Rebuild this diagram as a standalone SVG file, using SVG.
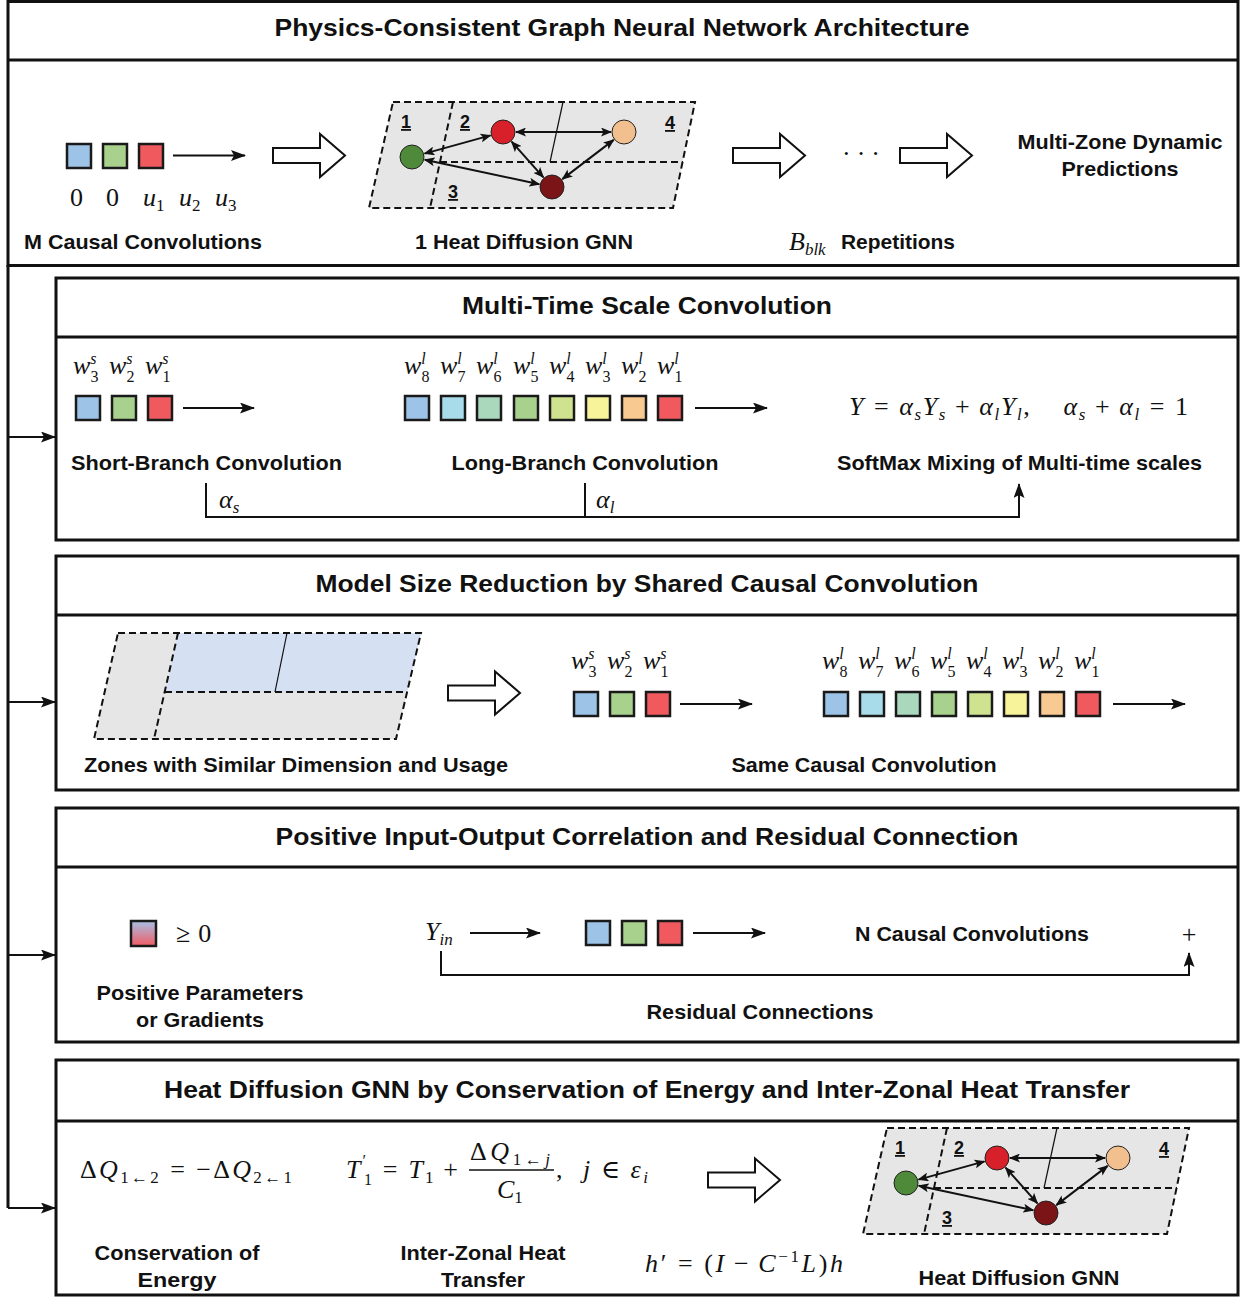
<svg xmlns="http://www.w3.org/2000/svg" width="1241" height="1297" viewBox="0 0 1241 1297">
<style>
.t{font-family:"Liberation Sans",Arial,sans-serif;font-weight:bold;font-size:21px;fill:#111}
.h{font-family:"Liberation Sans",Arial,sans-serif;font-weight:bold;font-size:24px;fill:#111}
.m{font-family:"Liberation Serif","DejaVu Serif","Times New Roman",serif;font-size:26px;fill:#111}
.i{font-style:italic}
.s{font-size:17px}
.ss{font-size:16px}
.box{fill:none;stroke:#111;stroke-width:3}
.ln{fill:none;stroke:#111;stroke-width:2}
.sq{stroke:#1a1a1a;stroke-width:2.5}
.zone{fill:#e6e6e6;stroke:none}
.dash{fill:none;stroke:#111;stroke-width:2;stroke-dasharray:7 4}
.thin{fill:none;stroke:#111;stroke-width:1.2}
.blk{fill:#fff;stroke:#111;stroke-width:2}
.node{stroke:#222;stroke-width:1}
.edge{fill:none;stroke:#111;stroke-width:2;marker-start:url(#ah2);marker-end:url(#ah2)}
.zl{font-family:"Liberation Sans",Arial,sans-serif;font-weight:bold;font-size:18px;text-decoration:underline;fill:#111}
.b{fill:#9dc3e6}.c{fill:#a8dcea}.mi{fill:#a9d8bd}.g{fill:#a9d18e}.yg{fill:#cfe290}.y{fill:#f6f39a}.o{fill:#f9c992}.r{fill:#f05a5f}
</style>
<defs>
<marker id="ah" markerWidth="15" markerHeight="11" refX="14" refY="5.5" orient="auto" markerUnits="userSpaceOnUse"><path d="M0,0 L15,5.5 L0,11 L3,5.5 Z" fill="#111"/></marker>
<marker id="ah2" markerWidth="11" markerHeight="9" refX="10" refY="4.5" orient="auto-start-reverse" markerUnits="userSpaceOnUse"><path d="M0,0 L11,4.5 L0,9 L2.5,4.5 Z" fill="#111"/></marker>
<path id="blkarrow" d="M0,-7.5 H47 V-21.5 L72,0 L47,21.5 V7.5 H0 Z"/>
<linearGradient id="grad" x1="0" y1="0" x2="0" y2="1"><stop offset="0" stop-color="#a6c0e6"/><stop offset="1" stop-color="#f25c64"/></linearGradient>
<g id="graph">
  <polygon class="zone" points="393,102 695,102 673,208 369,208"/>
  <polygon class="dash" points="393,102 695,102 673,208 369,208"/>
  <line class="dash" x1="453" y1="102" x2="430" y2="208"/>
  <line class="dash" x1="440" y1="162" x2="683" y2="162"/>
  <line class="thin" x1="563" y1="102" x2="550" y2="162"/>
  <text class="zl" x="401" y="128">1</text>
  <text class="zl" x="460" y="128">2</text>
  <text class="zl" x="448" y="198">3</text>
  <text class="zl" x="665" y="129">4</text>
  <g class="connectors">
    <line class="edge" x1="424.5" y1="153.6" x2="490.5" y2="135.4"/>
    <line class="edge" x1="516" y1="132" x2="611" y2="132"/>
    <line class="edge" x1="511.6" y1="141.7" x2="543.4" y2="177.3"/>
    <line class="edge" x1="613.7" y1="139.9" x2="562.3" y2="179.1"/>
    <line class="edge" x1="424.7" y1="159.7" x2="539.3" y2="184.3"/>
  </g>
  <circle class="node" cx="412" cy="157" r="12" fill="#4e8a3a"/>
  <circle class="node" cx="503" cy="132" r="12" fill="#d8202a"/>
  <circle class="node" cx="624" cy="132" r="12" fill="#f2c08f"/>
  <circle class="node" cx="552" cy="187" r="12" fill="#7a1416"/>
</g>
</defs>

<!-- frames -->
<g id="frames">
  <rect class="box" x="8" y="1.5" width="1230" height="264"/>
  <line class="box" x1="8" y1="60" x2="1238" y2="60"/>
  <rect class="box" x="56" y="278" width="1182" height="262"/>
  <line class="box" x1="56" y1="337" x2="1238" y2="337"/>
  <rect class="box" x="56" y="556" width="1182" height="234"/>
  <line class="box" x1="56" y1="615" x2="1238" y2="615"/>
  <rect class="box" x="56" y="808" width="1182" height="234"/>
  <line class="box" x1="56" y1="867" x2="1238" y2="867"/>
  <rect class="box" x="56" y="1060" width="1182" height="235"/>
  <line class="box" x1="56" y1="1121" x2="1238" y2="1121"/>
</g>

<!-- connectors -->
<g id="connectors">
  <path class="box" d="M8,265 V1208"/>
  <line class="ln" x1="8" y1="437" x2="55" y2="437" marker-end="url(#ah)"/>
  <line class="ln" x1="8" y1="702" x2="55" y2="702" marker-end="url(#ah)"/>
  <line class="ln" x1="8" y1="955" x2="55" y2="955" marker-end="url(#ah)"/>
  <line class="ln" x1="8" y1="1208" x2="55" y2="1208" marker-end="url(#ah)"/>
  <line class="ln" x1="173" y1="155.5" x2="245" y2="155.5" marker-end="url(#ah)"/>
  <line class="ln" x1="183" y1="408" x2="254" y2="408" marker-end="url(#ah)"/>
  <line class="ln" x1="695" y1="408" x2="767" y2="408" marker-end="url(#ah)"/>
  <path class="ln" d="M206,483 V517 H1019 V484" marker-end="url(#ah)"/>
  <line class="ln" x1="585" y1="483" x2="585" y2="517"/>
  <line class="ln" x1="680" y1="704" x2="752" y2="704" marker-end="url(#ah)"/>
  <line class="ln" x1="1113" y1="704" x2="1185" y2="704" marker-end="url(#ah)"/>
  <line class="ln" x1="470" y1="933" x2="540" y2="933" marker-end="url(#ah)"/>
  <line class="ln" x1="693" y1="933" x2="765" y2="933" marker-end="url(#ah)"/>
  <path class="ln" d="M441,951 V975 H1189 V953" marker-end="url(#ah)"/>
  <use href="#blkarrow" class="blk" transform="translate(273,155.5)"/>
  <use href="#blkarrow" class="blk" transform="translate(733,155.5)"/>
  <use href="#blkarrow" class="blk" transform="translate(900,155.5)"/>
  <use href="#blkarrow" class="blk" transform="translate(448,693)"/>
  <use href="#blkarrow" class="blk" transform="translate(708,1180)"/>
</g>

<!-- Section 1 -->
<g id="sec1">
  <text class="h" x="622" y="36" text-anchor="middle" textLength="695" lengthAdjust="spacingAndGlyphs">Physics-Consistent Graph Neural Network Architecture</text>
  <g id="mconv">
    <rect class="sq b" x="67" y="144" width="24" height="24"/>
    <rect class="sq g" x="103" y="144" width="24" height="24"/>
    <rect class="sq r" x="139" y="144" width="24" height="24"/>
    <text class="m" x="70" y="206">0</text>
    <text class="m" x="106" y="206">0</text>
    <text class="m" x="143" y="206"><tspan class="i">u</tspan><tspan class="s" dy="5">1</tspan></text>
    <text class="m" x="179" y="206"><tspan class="i">u</tspan><tspan class="s" dy="5">2</tspan></text>
    <text class="m" x="215" y="206"><tspan class="i">u</tspan><tspan class="s" dy="5">3</tspan></text>
    <text class="t" x="24" y="249" textLength="238" lengthAdjust="spacingAndGlyphs">M Causal Convolutions</text>
  </g>
  <g id="gnn-top">
    <use href="#graph"/>
    <text class="t" x="524" y="249" text-anchor="middle" textLength="218" lengthAdjust="spacingAndGlyphs">1 Heat Diffusion GNN</text>
  </g>
  <text class="m" x="842" y="162" font-size="22" letter-spacing="6">···</text>
  <g id="reps">
    <text class="m" x="789" y="250"><tspan class="i">B</tspan><tspan class="s i" dy="5">blk</tspan></text>
    <text class="t" x="841" y="249" textLength="114" lengthAdjust="spacingAndGlyphs">Repetitions</text>
  </g>
  <g id="pred">
    <text class="t" x="1120" y="149" text-anchor="middle" textLength="205" lengthAdjust="spacingAndGlyphs">Multi-Zone Dynamic</text>
    <text class="t" x="1120" y="176" text-anchor="middle" textLength="117" lengthAdjust="spacingAndGlyphs">Predictions</text>
  </g>
</g>

<!-- Section 2 -->
<g id="sec2">
  <text class="h" x="647" y="314" text-anchor="middle" textLength="370" lengthAdjust="spacingAndGlyphs">Multi-Time Scale Convolution</text>
  <g id="short-branch">
    <text class="m" x="73" y="374"><tspan class="i">w</tspan><tspan class="ss i" dy="-10">s</tspan><tspan class="ss" dx="-6.2" dy="18">3</tspan></text>
    <text class="m" x="109" y="374"><tspan class="i">w</tspan><tspan class="ss i" dy="-10">s</tspan><tspan class="ss" dx="-6.2" dy="18">2</tspan></text>
    <text class="m" x="145" y="374"><tspan class="i">w</tspan><tspan class="ss i" dy="-10">s</tspan><tspan class="ss" dx="-6.2" dy="18">1</tspan></text>
    <rect class="sq b" x="76" y="396" width="24" height="24"/>
    <rect class="sq g" x="112" y="396" width="24" height="24"/>
    <rect class="sq r" x="148" y="396" width="24" height="24"/>
    <text class="t" x="71" y="470" textLength="271" lengthAdjust="spacingAndGlyphs">Short-Branch Convolution</text>
  </g>
  <g id="long-branch">
    <text class="m" x="404" y="374"><tspan class="i">w</tspan><tspan class="ss i" dy="-10">l</tspan><tspan class="ss" dx="-4.4" dy="18">8</tspan></text>
    <text class="m" x="440" y="374"><tspan class="i">w</tspan><tspan class="ss i" dy="-10">l</tspan><tspan class="ss" dx="-4.4" dy="18">7</tspan></text>
    <text class="m" x="476" y="374"><tspan class="i">w</tspan><tspan class="ss i" dy="-10">l</tspan><tspan class="ss" dx="-4.4" dy="18">6</tspan></text>
    <text class="m" x="513" y="374"><tspan class="i">w</tspan><tspan class="ss i" dy="-10">l</tspan><tspan class="ss" dx="-4.4" dy="18">5</tspan></text>
    <text class="m" x="549" y="374"><tspan class="i">w</tspan><tspan class="ss i" dy="-10">l</tspan><tspan class="ss" dx="-4.4" dy="18">4</tspan></text>
    <text class="m" x="585" y="374"><tspan class="i">w</tspan><tspan class="ss i" dy="-10">l</tspan><tspan class="ss" dx="-4.4" dy="18">3</tspan></text>
    <text class="m" x="621" y="374"><tspan class="i">w</tspan><tspan class="ss i" dy="-10">l</tspan><tspan class="ss" dx="-4.4" dy="18">2</tspan></text>
    <text class="m" x="657" y="374"><tspan class="i">w</tspan><tspan class="ss i" dy="-10">l</tspan><tspan class="ss" dx="-4.4" dy="18">1</tspan></text>
    <rect class="sq b" x="405" y="396" width="24" height="24"/>
    <rect class="sq c" x="441" y="396" width="24" height="24"/>
    <rect class="sq mi" x="477" y="396" width="24" height="24"/>
    <rect class="sq g" x="514" y="396" width="24" height="24"/>
    <rect class="sq yg" x="550" y="396" width="24" height="24"/>
    <rect class="sq y" x="586" y="396" width="24" height="24"/>
    <rect class="sq o" x="622" y="396" width="24" height="24"/>
    <rect class="sq r" x="658" y="396" width="24" height="24"/>
    <text class="t" x="585" y="470" text-anchor="middle" textLength="267" lengthAdjust="spacingAndGlyphs">Long-Branch Convolution</text>
  </g>
  <g id="softmax">
    <text class="m" x="849" y="415" textLength="339"><tspan class="i">Y</tspan><tspan dx="9">=</tspan><tspan class="i" dx="9">α</tspan><tspan class="s i" dy="5">s</tspan><tspan class="i" dy="-5">Y</tspan><tspan class="s i" dy="5">s</tspan><tspan dx="8" dy="-5">+</tspan><tspan class="i" dx="8">α</tspan><tspan class="s i" dy="5">l</tspan><tspan class="i" dy="-5">Y</tspan><tspan class="s i" dy="5">l</tspan><tspan dy="-5">,</tspan><tspan class="i" dx="32">α</tspan><tspan class="s i" dy="5">s</tspan><tspan dx="8" dy="-5">+</tspan><tspan class="i" dx="8">α</tspan><tspan class="s i" dy="5">l</tspan><tspan dx="9" dy="-5">=</tspan><tspan dx="9">1</tspan></text>
    <text class="t" x="837" y="470" textLength="365" lengthAdjust="spacingAndGlyphs">SoftMax Mixing of Multi-time scales</text>
  </g>
  <text class="m" x="219" y="508"><tspan class="i">α</tspan><tspan class="s i" dy="5">s</tspan></text>
  <text class="m" x="596" y="508"><tspan class="i">α</tspan><tspan class="s i" dy="5">l</tspan></text>
</g>

<!-- Section 3 -->
<g id="sec3">
  <text class="h" x="647" y="592" text-anchor="middle" textLength="663" lengthAdjust="spacingAndGlyphs">Model Size Reduction by Shared Causal Convolution</text>
  <g id="zones">
    <polygon class="zone" points="118,633 421,633 396,739 94,739"/>
    <polygon points="178,633 421,633 407,692 165,692" fill="#d5e1f2"/>
    <polygon class="dash" points="118,633 421,633 396,739 94,739"/>
    <line class="dash" x1="178" y1="633" x2="154" y2="739"/>
    <line class="dash" x1="165" y1="692" x2="407" y2="692"/>
    <line class="thin" x1="287" y1="633" x2="275" y2="692"/>
    <text class="t" x="84" y="772" textLength="424" lengthAdjust="spacingAndGlyphs">Zones with Similar Dimension and Usage</text>
  </g>
  <g id="same-conv">
    <text class="m" x="571" y="669"><tspan class="i">w</tspan><tspan class="ss i" dy="-10">s</tspan><tspan class="ss" dx="-6.2" dy="18">3</tspan></text>
    <text class="m" x="607" y="669"><tspan class="i">w</tspan><tspan class="ss i" dy="-10">s</tspan><tspan class="ss" dx="-6.2" dy="18">2</tspan></text>
    <text class="m" x="643" y="669"><tspan class="i">w</tspan><tspan class="ss i" dy="-10">s</tspan><tspan class="ss" dx="-6.2" dy="18">1</tspan></text>
    <rect class="sq b" x="574" y="692" width="24" height="24"/>
    <rect class="sq g" x="610" y="692" width="24" height="24"/>
    <rect class="sq r" x="646" y="692" width="24" height="24"/>
    <text class="m" x="822" y="669"><tspan class="i">w</tspan><tspan class="ss i" dy="-10">l</tspan><tspan class="ss" dx="-4.4" dy="18">8</tspan></text>
    <text class="m" x="858" y="669"><tspan class="i">w</tspan><tspan class="ss i" dy="-10">l</tspan><tspan class="ss" dx="-4.4" dy="18">7</tspan></text>
    <text class="m" x="894" y="669"><tspan class="i">w</tspan><tspan class="ss i" dy="-10">l</tspan><tspan class="ss" dx="-4.4" dy="18">6</tspan></text>
    <text class="m" x="930" y="669"><tspan class="i">w</tspan><tspan class="ss i" dy="-10">l</tspan><tspan class="ss" dx="-4.4" dy="18">5</tspan></text>
    <text class="m" x="966" y="669"><tspan class="i">w</tspan><tspan class="ss i" dy="-10">l</tspan><tspan class="ss" dx="-4.4" dy="18">4</tspan></text>
    <text class="m" x="1002" y="669"><tspan class="i">w</tspan><tspan class="ss i" dy="-10">l</tspan><tspan class="ss" dx="-4.4" dy="18">3</tspan></text>
    <text class="m" x="1038" y="669"><tspan class="i">w</tspan><tspan class="ss i" dy="-10">l</tspan><tspan class="ss" dx="-4.4" dy="18">2</tspan></text>
    <text class="m" x="1074" y="669"><tspan class="i">w</tspan><tspan class="ss i" dy="-10">l</tspan><tspan class="ss" dx="-4.4" dy="18">1</tspan></text>
    <rect class="sq b" x="824" y="692" width="24" height="24"/>
    <rect class="sq c" x="860" y="692" width="24" height="24"/>
    <rect class="sq mi" x="896" y="692" width="24" height="24"/>
    <rect class="sq g" x="932" y="692" width="24" height="24"/>
    <rect class="sq yg" x="968" y="692" width="24" height="24"/>
    <rect class="sq y" x="1004" y="692" width="24" height="24"/>
    <rect class="sq o" x="1040" y="692" width="24" height="24"/>
    <rect class="sq r" x="1076" y="692" width="24" height="24"/>
    <text class="t" x="864" y="772" text-anchor="middle" textLength="265" lengthAdjust="spacingAndGlyphs">Same Causal Convolution</text>
  </g>
</g>

<!-- Section 4 -->
<g id="sec4">
  <text class="h" x="647" y="845" text-anchor="middle" textLength="743" lengthAdjust="spacingAndGlyphs">Positive Input-Output Correlation and Residual Connection</text>
  <g id="positive">
    <rect class="sq" x="131" y="921" width="25" height="25" fill="url(#grad)"/>
    <text class="m" x="176" y="942">≥<tspan dx="8">0</tspan></text>
    <text class="t" x="200" y="1000" text-anchor="middle" textLength="207" lengthAdjust="spacingAndGlyphs">Positive Parameters</text>
    <text class="t" x="200" y="1027" text-anchor="middle" textLength="128" lengthAdjust="spacingAndGlyphs">or Gradients</text>
  </g>
  <g id="residual">
    <text class="m" x="425" y="940"><tspan class="i">Y</tspan><tspan class="s i" dy="5">in</tspan></text>
    <rect class="sq b" x="586" y="921" width="24" height="24"/>
    <rect class="sq g" x="622" y="921" width="24" height="24"/>
    <rect class="sq r" x="658" y="921" width="24" height="24"/>
    <text class="t" x="855" y="941" textLength="234" lengthAdjust="spacingAndGlyphs">N Causal Convolutions</text>
    <text class="m" x="1189" y="943" text-anchor="middle" font-size="28">+</text>
    <text class="t" x="760" y="1019" text-anchor="middle" textLength="227" lengthAdjust="spacingAndGlyphs">Residual Connections</text>
  </g>
</g>

<!-- Section 5 -->
<g id="sec5">
  <text class="h" x="647" y="1098" text-anchor="middle" textLength="966" lengthAdjust="spacingAndGlyphs">Heat Diffusion GNN by Conservation of Energy and Inter-Zonal Heat Transfer</text>
  <g id="conservation">
    <text class="m" x="80" y="1178" textLength="212">Δ<tspan class="i">Q</tspan><tspan class="s" dy="5">1←2</tspan><tspan dx="9" dy="-5">=</tspan><tspan dx="9">−Δ</tspan><tspan class="i">Q</tspan><tspan class="s" dy="5">2←1</tspan></text>
    <text class="t" x="177" y="1260" text-anchor="middle" textLength="165" lengthAdjust="spacingAndGlyphs">Conservation of</text>
    <text class="t" x="177" y="1287" text-anchor="middle" textLength="79" lengthAdjust="spacingAndGlyphs">Energy</text>
  </g>
  <g id="interzonal">
    <text class="m" x="346" y="1178" textLength="112"><tspan class="i">T</tspan><tspan class="ss" dy="-12">′</tspan><tspan class="ss" dx="-4" dy="19">1</tspan><tspan dx="9" dy="-7">=</tspan><tspan class="i" dx="9">T</tspan><tspan class="s" dy="5">1</tspan><tspan dx="8" dy="-5">+</tspan></text>
    <text class="m" x="470" y="1160" textLength="80">Δ<tspan class="i">Q</tspan><tspan class="s" dy="5">1←</tspan><tspan class="s i">j</tspan></text>
    <line x1="469" y1="1170" x2="554" y2="1170" stroke="#111" stroke-width="1.5"/>
    <text class="m" x="497" y="1198"><tspan class="i">C</tspan><tspan class="s" dy="5">1</tspan></text>
    <text class="m" x="556" y="1178" textLength="92">,<tspan class="i" dx="18">j</tspan><tspan dx="8">∈</tspan><tspan class="i" dx="8">ε</tspan><tspan class="s i" dy="5">i</tspan></text>
    <text class="t" x="483" y="1260" text-anchor="middle" textLength="165" lengthAdjust="spacingAndGlyphs">Inter-Zonal Heat</text>
    <text class="t" x="483" y="1287" text-anchor="middle" textLength="84" lengthAdjust="spacingAndGlyphs">Transfer</text>
  </g>
  <text class="m" x="645" y="1272" textLength="198"><tspan class="i">h</tspan>′<tspan dx="9">=</tspan><tspan dx="9">(</tspan><tspan class="i">I</tspan><tspan dx="7">−</tspan><tspan class="i" dx="7">C</tspan><tspan class="s" dy="-10">−1</tspan><tspan class="i" dy="10">L</tspan>)<tspan class="i">h</tspan></text>
  <g id="gnn-bottom">
    <use href="#graph" transform="translate(494,1026)"/>
    <text class="t" x="1019" y="1285" text-anchor="middle" textLength="201" lengthAdjust="spacingAndGlyphs">Heat Diffusion GNN</text>
  </g>
</g>
</svg>
